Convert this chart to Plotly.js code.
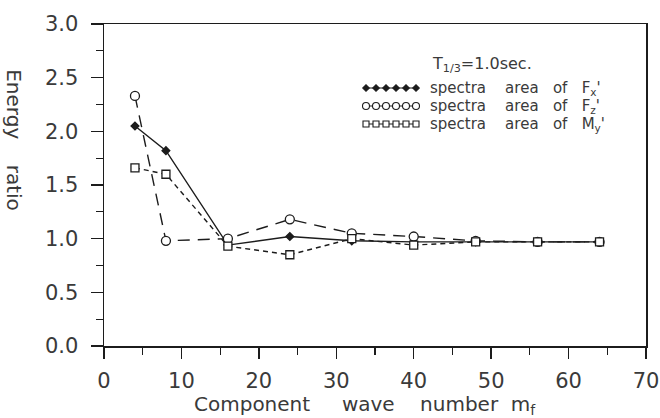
<!DOCTYPE html>
<html>
<head>
<meta charset="utf-8">
<script src="https://cdn.plot.ly/plotly-3.0.1.min.js"></script>
<style>
  html, body { margin: 0; padding: 0; background: #fff; }
  #chart { width: 660px; height: 418px; }
</style>
</head>
<body>
<div id="chart"></div>
<script>
// Component wave numbers and energy ratios of the three spectra areas
const waveNumber = [4, 8, 16, 24, 32, 40, 48, 56, 64];
const ratioFx = [2.05, 1.82, 0.94, 1.02, 0.98, 0.97, 0.97, 0.97, 0.97];
const ratioFz = [2.33, 0.98, 1.00, 1.18, 1.05, 1.02, 0.98, 0.97, 0.97];
const ratioMy = [1.66, 1.60, 0.93, 0.85, 1.00, 0.94, 0.97, 0.97, 0.97];

const seriesNames = ["F<sub>x</sub>'", "F<sub>z</sub>'", "M<sub>y</sub>'"];
const xTickVals = [0, 10, 20, 30, 40, 50, 60, 70];
const yTickVals = [0, 0.5, 1.0, 1.5, 2.0, 2.5, 3.0];

// plot-area geometry in pixels
const W = 660, H = 418;
const M = { l: 104, r: 14, t: 24, b: 72 };
const PW = W - M.l - M.r, PH = H - M.t - M.b;
const px = x => (x - M.l) / PW;          // pixel -> paper x
const py = y => (M.t + PH - y) / PH;     // pixel -> paper y

const ink = '#1c1c1c';
const textInk = '#3a3a3a';
const font = 'DejaVu Sans, Verdana, sans-serif';
const sp = n => '\u00a0'.repeat(n);

const styles = [
  { dash: 'solid',     symbol: 'diamond', size: 6, fill: ink },
  { dash: '12px,8px',  symbol: 'circle',  size: 9, fill: '#fff' },
  { dash: '5px,4px',   symbol: 'square',  size: 8, fill: '#fff' }
];
const values = [ratioFx, ratioFz, ratioMy];

const traces = values.map((v, i) => ({
  x: waveNumber, y: v, type: 'scatter', mode: 'lines+markers',
  line: { color: ink, width: 1.4, dash: styles[i].dash },
  marker: { symbol: styles[i].symbol, size: styles[i].size, color: styles[i].fill,
            line: { color: ink, width: 1.3 } },
  showlegend: false, hoverinfo: 'skip'
}));

// legend key: short sample lines with six markers each, on an overlay paper-like axis
const keyRowsY = [88, 106, 124];
const keyX = [366, 376, 386, 396, 406, 416].map(px);
keyRowsY.forEach((ry, i) => {
  traces.push({
    x: keyX, y: keyX.map(() => py(ry)), xaxis: 'x2', yaxis: 'y2',
    type: 'scatter', mode: 'lines+markers',
    line: { color: ink, width: 1.2 },
    marker: { symbol: styles[i].symbol, size: Math.max(5, styles[i].size - 2), color: styles[i].fill,
              line: { color: ink, width: 1.1 } },
    showlegend: false, hoverinfo: 'skip'
  });
});

const annotations = [
  { text: 'T<sub>1/3</sub>=1.0sec.', x: px(430), y: py(64), xanchor: 'left', yanchor: 'middle',
    font: { size: 16, color: textInk, family: font } },
  { text: 'Component' + sp(5) + 'wave' + sp(4) + 'number' + sp(2) + 'm<sub>f</sub>',
    x: px(192), y: py(405), xanchor: 'left', yanchor: 'middle',
    font: { size: 20, color: textInk, family: font } }
];
keyRowsY.forEach((ry, i) => {
  annotations.push({
    text: 'spectra' + sp(4) + 'area' + sp(3) + 'of' + sp(3) + seriesNames[i],
    x: px(428), y: py(ry), xanchor: 'left', yanchor: 'middle',
    font: { size: 15, color: textInk, family: font }
  });
});
annotations.forEach(a => { a.xref = 'paper'; a.yref = 'paper'; a.showarrow = false; });

const layout = {
  width: W, height: H, margin: M,
  paper_bgcolor: '#fff', plot_bgcolor: '#fff',
  font: { family: font, color: textInk },
  xaxis: {
    range: [0, 70], tickvals: xTickVals, ticktext: xTickVals.map(String),
    ticks: 'outside', ticklen: 11, tickwidth: 1.3, tickcolor: ink,
    minor: { dtick: 5, ticks: 'outside', ticklen: 7, tickwidth: 1.2, tickcolor: ink },
    showline: true, linecolor: ink, linewidth: 1.5, mirror: true,
    showgrid: false, zeroline: false, tickfont: { size: 21, color: textInk },
    ticklabelstandoff: 4
  },
  yaxis: {
    range: [0, 3], tickvals: yTickVals, ticktext: yTickVals.map(v => v.toFixed(1)),
    ticks: 'outside', ticklen: 12, tickwidth: 1.3, tickcolor: ink,
    minor: { dtick: 0.25, ticks: 'outside', ticklen: 7, tickwidth: 1.2, tickcolor: ink },
    showline: true, linecolor: ink, linewidth: 1.5, mirror: true,
    showgrid: false, zeroline: false, tickfont: { size: 21, color: textInk },
    ticklabelstandoff: 8,
    title: { text: 'Energy' + sp(4) + 'ratio', font: { size: 20, color: textInk, family: font } }
  },
  xaxis2: { overlaying: 'x', range: [0, 1], visible: false, fixedrange: true },
  yaxis2: { overlaying: 'y', range: [0, 1], visible: false, fixedrange: true },
  annotations: annotations,
  showlegend: false
};

Plotly.newPlot('chart', traces, layout, { staticPlot: true, displayModeBar: false }).then(gd => {
  // the axis title reads top-to-bottom, centred a little above the axis middle
  const t = gd.querySelector('.ytitle');
  if (t) {
    const cx = 23, cy = 140;
    t.setAttribute('x', cx);
    t.setAttribute('y', cy);
    t.setAttribute('text-anchor', 'middle');
    t.setAttribute('transform', `rotate(90,${cx},${cy})`);
    t.querySelectorAll('tspan').forEach(s => { if (s.hasAttribute('x')) s.setAttribute('x', cx); });
  }
});
</script>
</body>
</html>
